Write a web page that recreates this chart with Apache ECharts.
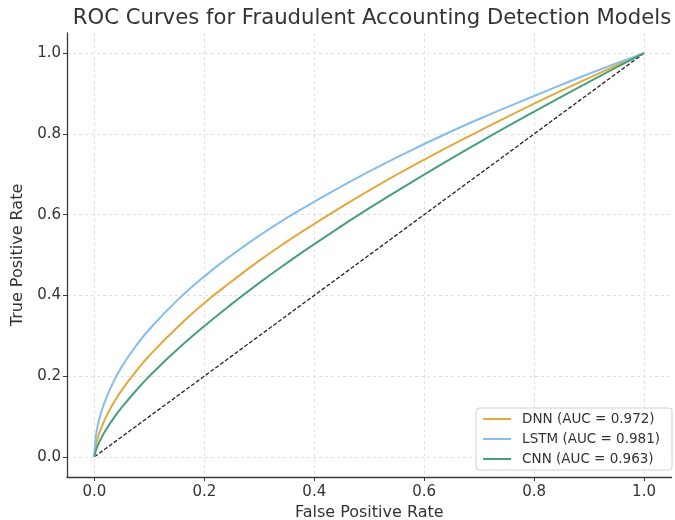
<!DOCTYPE html>
<html>
<head>
<meta charset="utf-8">
<script src="https://cdn.jsdelivr.net/npm/echarts@6/dist/echarts.min.js"></script>
<style>
  html, body { margin: 0; padding: 0; background: #fff; }
  #chart { width: 675px; height: 520px; }
</style>
</head>
<body>
<div id="chart"></div>
<script>
// False positive rate sample points
const fpr = [0, 0.002, 0.005, 0.01, 0.02, 0.035, 0.05, 0.075, 0.1, 0.15, 0.2, 0.25, 0.3, 0.35, 0.4, 0.5, 0.6, 0.7, 0.8, 0.9, 1.0];

// True positive rate per model
const tprDNN = [0, 0.024, 0.042, 0.063, 0.096, 0.134, 0.166, 0.211, 0.251, 0.320, 0.381, 0.435, 0.486, 0.533, 0.577, 0.660, 0.736, 0.807, 0.875, 0.939, 1.0];
const tprLSTM = [0, 0.045, 0.071, 0.100, 0.141, 0.187, 0.224, 0.274, 0.316, 0.387, 0.447, 0.500, 0.548, 0.592, 0.632, 0.707, 0.775, 0.837, 0.894, 0.949, 1.0];
const tprCNN = [0, 0.013, 0.025, 0.040, 0.065, 0.096, 0.123, 0.163, 0.200, 0.265, 0.324, 0.379, 0.431, 0.480, 0.527, 0.616, 0.699, 0.779, 0.855, 0.929, 1.0];

const modelNames = ['DNN (AUC = 0.972)', 'LSTM (AUC = 0.981)', 'CNN (AUC = 0.963)'];
const chanceLine = [[0, 0], [1, 1]];
const tickValues = [0, 0.2, 0.4, 0.6, 0.8, 1.0];

const colors = {
  DNN: '#e3a93b',
  LSTM: '#84bee9',
  CNN: '#47a07b'
};

function pairs(xs, ys) {
  return xs.map((x, i) => [x, ys[i]]);
}

const font = 'DejaVu Sans';
const textColor = '#333333';
const axisColor = '#3a3a3a';

function makeAxis(name, isX) {
  return {
    type: 'value',
    min: -0.05,
    max: 1.05,
    name: name,
    nameLocation: 'middle',
    nameGap: isX ? 24 : 38,
    nameTextStyle: { fontFamily: font, fontSize: 16, color: textColor },
    axisLine: { show: true, onZero: false, lineStyle: { color: axisColor, width: 1.3 } },
    axisTick: { show: true, length: 4, inside: false, customValues: tickValues, lineStyle: { color: axisColor } },
    axisLabel: {
      fontFamily: font, fontSize: 15, color: textColor, margin: isX ? 8 : 6,
      customValues: tickValues,
      formatter: v => v.toFixed(1)
    },
    splitLine: { show: true, lineStyle: { color: '#d8d8d8', type: [3, 3], width: 0.8 } }
  };
}

const chart = echarts.init(document.getElementById('chart'));

const lineSeries = (name, data, color) => ({
  name: name,
  type: 'line',
  smooth: true,
  symbol: 'none',
  data: data,
  lineStyle: { color: color, width: 2 },
  itemStyle: { color: color },
  z: 3
});

chart.setOption({
  backgroundColor: '#ffffff',
  animation: false,
  title: {
    text: 'ROC Curves for Fraudulent Accounting Detection Models',
    left: 367,
    textAlign: 'center',
    top: 3,
    textStyle: { fontFamily: font, fontSize: 21.2, fontWeight: 'normal', color: textColor }
  },
  grid: { left: 67, right: 3.5, top: 33, bottom: 43, containLabel: false, outerBoundsMode: 'none' },
  legend: {
    data: modelNames,
    orient: 'vertical',
    right: 3,
    top: 408,
    itemWidth: 28,
    itemHeight: 14,
    itemGap: 6,
    padding: [4, 12, 4, 6],
    borderColor: '#d0d0d0',
    borderWidth: 1,
    borderRadius: 3,
    backgroundColor: 'rgba(255,255,255,0.85)',
    itemStyle: { opacity: 0 },
    lineStyle: { width: 2 },
    textStyle: { fontFamily: font, fontSize: 13.5, color: textColor, padding: [0, 0, 0, 6] }
  },
  xAxis: makeAxis('False Positive Rate', true),
  yAxis: makeAxis('True Positive Rate', false),
  series: [
    lineSeries(modelNames[0], pairs(fpr, tprDNN), colors.DNN),
    lineSeries(modelNames[1], pairs(fpr, tprLSTM), colors.LSTM),
    lineSeries(modelNames[2], pairs(fpr, tprCNN), colors.CNN),
    {
      name: 'chance',
      type: 'line',
      symbol: 'none',
      data: chanceLine,
      lineStyle: { color: '#222222', width: 1.3, type: [4, 2] },
      z: 2
    }
  ]
});
</script>
</body>
</html>
